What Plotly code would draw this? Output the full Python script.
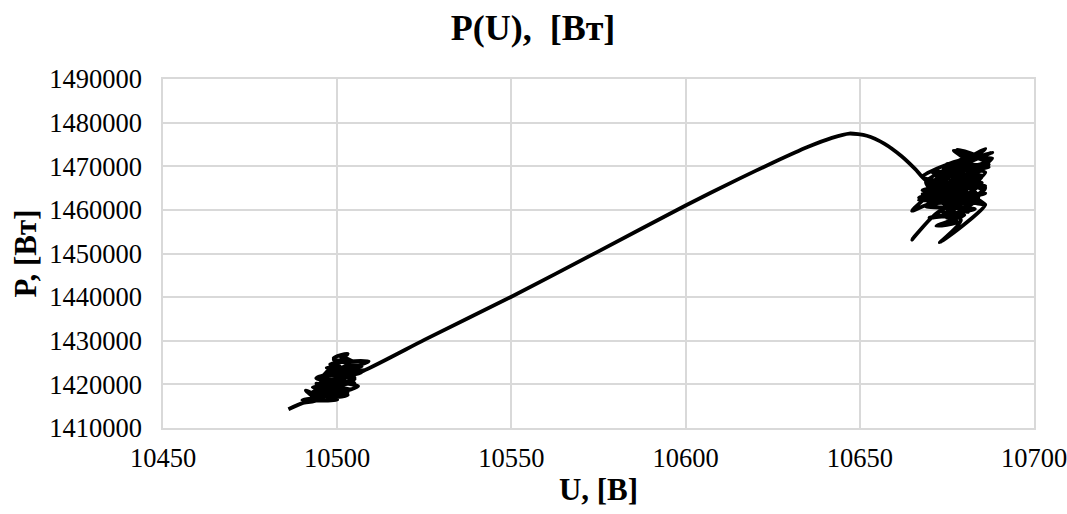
import plotly.graph_objects as go

# ---- data ----
# cluster near 10500 V (start of series)
u_start = [10486, 10490, 10494, 10491, 10496, 10494, 10502, 10493, 10504, 10495,
           10506, 10497, 10507, 10499, 10505, 10501, 10504, 10498, 10508, 10494,
           10503, 10490, 10500, 10496, 10502, 10495, 10505, 10498, 10509, 10500,
           10503, 10497, 10506, 10494, 10501, 10499, 10503, 10496, 10502, 10493,
           10500, 10497, 10505, 10502, 10507, 10496, 10504, 10499, 10505, 10501,
           10504]
p_start = [1414300, 1415700, 1416300, 1418600, 1416800, 1420200, 1417200, 1419300, 1420300, 1421800,
           1422600, 1423800, 1424100, 1425600, 1425000, 1426400, 1423000, 1422500, 1423200, 1419800,
           1418200, 1416400, 1416500, 1418600, 1421000, 1420900, 1420200, 1424600, 1425300, 1422000,
           1417600, 1417000, 1419600, 1421400, 1423600, 1426000, 1427000, 1421900, 1419200, 1418300,
           1417800, 1422800, 1421600, 1424200, 1422800, 1420500, 1418800, 1419800, 1421200, 1421800,
           1422400]

# transition curve
u_mid = [10508, 10525, 10550, 10575, 10600, 10615, 10625, 10635, 10642, 10647,
         10652, 10657, 10662, 10666, 10669]
p_mid = [1423300, 1430200, 1440100, 1450500, 1461000, 1467000, 1470800, 1474400, 1476500, 1477500,
         1477000, 1475200, 1472300, 1469300, 1466800]

# cluster near 10678 V (end of series)
u_end = [10686, 10668, 10685, 10671, 10687, 10675, 10684, 10667, 10686, 10669,
         10683, 10670, 10680, 10672, 10678, 10673, 10665, 10671, 10685, 10670,
         10682, 10678, 10684, 10687, 10672, 10684, 10668, 10681, 10676, 10686,
         10674, 10683, 10665, 10670, 10686, 10673, 10679, 10669, 10688, 10675,
         10682, 10667, 10684, 10673, 10681, 10677, 10687, 10671, 10679, 10686,
         10669, 10683, 10676, 10680, 10674, 10685, 10668, 10678, 10688, 10672,
         10681, 10670, 10684, 10675, 10679, 10686, 10671, 10682, 10677, 10686,
         10676, 10683, 10669, 10680, 10673, 10685, 10678, 10681, 10676]
p_end = [1465500, 1464500, 1467800, 1468500, 1469800, 1470500, 1463000, 1462200, 1463800, 1460800,
         1460200, 1458200, 1458800, 1456300, 1457200, 1459700, 1453200, 1458500, 1466200, 1465800,
         1470300, 1473800, 1472300, 1471200, 1467200, 1461500, 1463600, 1459500, 1461800, 1468600,
         1469300, 1472800, 1459800, 1461400, 1461200, 1452500, 1457600, 1466400, 1473200, 1468200,
         1466000, 1462800, 1466800, 1463400, 1470800, 1473600, 1470400, 1463000, 1460300, 1465000,
         1464000, 1468200, 1466600, 1462200, 1459000, 1464600, 1467600, 1471200, 1471800, 1462400,
         1464800, 1466200, 1462800, 1458200, 1468800, 1474000, 1466000, 1462000, 1465600, 1461200,
         1463600, 1469400, 1461000, 1467000, 1464200, 1467400, 1463200, 1465800, 1464000]

x_ticks = [10450, 10500, 10550, 10600, 10650, 10700]
y_ticks = [1410000, 1420000, 1430000, 1440000, 1450000, 1460000, 1470000, 1480000, 1490000]

title_text = "P(U),\u00a0 [Вт]"
x_title = "U, [В]"
y_title = "P, [Вт]"

U = u_start + u_mid + u_end
P = p_start + p_mid + p_end

FONT = "Liberation Serif, Times New Roman, serif"
GRID = "#d9d9d9"

fig = go.Figure()
fig.add_trace(go.Scatter(x=U, y=P, mode="lines",
                         line=dict(color="black", width=3.8, shape="spline", smoothing=0.6),
                         showlegend=False, hoverinfo="x+y"))

fig.update_layout(
    width=1067, height=514,
    margin=dict(l=163, r=33, t=79, b=86, autoexpand=False),
    paper_bgcolor="white", plot_bgcolor="white",
    font=dict(family=FONT, color="black"),
    title=dict(text="<b>" + title_text + "</b>", x=533 / 1067, xref="container", xanchor="center",
               y=1 - 27 / 514, yref="container", yanchor="middle",
               font=dict(family=FONT, size=36, color="black")),
)

fig.update_xaxes(range=[10450, 10700], tickvals=x_ticks, ticktext=[str(v) for v in x_ticks],
                 automargin=False, ticklabeloverflow="allow",
                 showgrid=True, gridcolor=GRID, gridwidth=1.5,
                 showline=True, linecolor=GRID, linewidth=1.5, mirror=True,
                 zeroline=False, ticks="", ticklabelstandoff=5,
                 tickfont=dict(family=FONT, size=26.5, color="black"),
                 title=dict(text="<b>" + x_title + "</b>", standoff=7,
                            font=dict(family=FONT, size=31, color="black")))
fig.update_yaxes(range=[1410000, 1490000], tickvals=y_ticks, ticktext=[str(v) for v in y_ticks],
                 automargin=False, ticklabeloverflow="allow",
                 showgrid=True, gridcolor=GRID, gridwidth=1.5,
                 showline=True, linecolor=GRID, linewidth=1.5, mirror=True,
                 zeroline=False, ticks="", ticklabelstandoff=14,
                 tickfont=dict(family=FONT, size=26.5, color="black"),
                 title=dict(text="<b>" + y_title + "</b>", standoff=3,
                            font=dict(family=FONT, size=31, color="black")))

fig.write_html("out.html")
